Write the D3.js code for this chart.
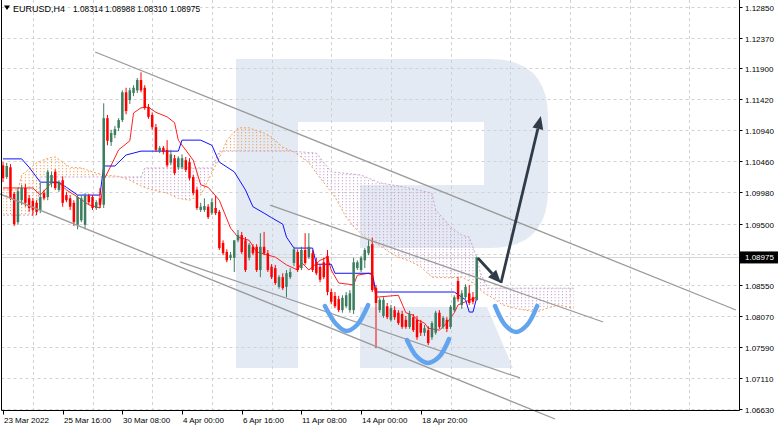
<!DOCTYPE html>
<html><head><meta charset="utf-8">
<script src="https://cdn.jsdelivr.net/npm/d3@7"></script>
<style>html,body{margin:0;padding:0;background:#fff;}svg{display:block;}</style>
</head><body>
<svg id="chart" width="782" height="430"></svg>
<script>
// ---------- DATA ----------
const symbolLabel = "EURUSD,H4";
const headerValues = ["1.08314", "1.08988", "1.08310", "1.08975"];
const lastPrice = 1.08975;
const priceTicks = [1.12850, 1.12370, 1.11900, 1.11420, 1.10940, 1.10460, 1.09980, 1.09500, 1.09030, 1.08550, 1.08070, 1.07590, 1.07110, 1.06630];
const hiddenPriceTicks = [1.09030]; // covered by the current-price box in the picture
const timeTickBars = [0, 16, 32, 48, 64, 80, 96, 112];
const timeTickLabels = ["23 Mar 2022", "25 Mar 16:00", "30 Mar 08:00", "4 Apr 00:00", "6 Apr 16:00", "11 Apr 08:00", "14 Apr 00:00", "18 Apr 20:00"];

const opens = [1.1040,1.1022,1.1037,1.0996,1.0952,1.0986,1.1005,1.0989,1.0985,1.0982,
1.0971,1.0997,1.0991,1.1013,1.1030,1.1002,1.1017,1.0994,1.0989,1.0982,
1.0948,1.0955,1.0948,1.0993,1.0991,1.0974,1.0989,1.0979,1.1113,1.1076,
1.1087,1.1098,1.1110,1.1153,1.1141,1.1152,1.1156,1.1172,1.1160,1.1130,
1.1118,1.1099,1.1062,1.1067,1.1064,1.1044,1.1051,1.1037,1.1037,1.1048,
1.1045,1.1022,1.1002,1.0971,1.0971,1.0976,1.0966,1.0974,1.0968,1.0920,
1.0906,1.0897,1.0897,1.0924,1.0932,1.0924,1.0897,1.0914,1.0914,1.0878,
1.0914,1.0904,1.0883,1.0881,1.0852,1.0867,1.0852,1.0867,1.0889,1.0906,
1.0881,1.0909,1.0898,1.0904,1.0890,1.0883,1.0890,1.0900,1.0844,1.0838,
1.0833,1.0816,1.0822,1.0816,1.0816,1.0881,1.0878,1.0893,1.0904,1.0918,
1.0850,1.0816,1.0807,1.0822,1.0801,1.0816,1.0812,1.0810,1.0801,1.0790,
1.0805,1.0801,1.0796,1.0781,1.0785,1.0774,1.0781,1.0812,1.0790,1.0801,
1.0790,1.0816,1.0861,1.0824,1.0836,1.0842,1.0836,1.08314];
const highs = [1.1045,1.1044,1.1042,1.0999,1.1005,1.1010,1.1011,1.0994,1.0989,1.0986,
1.1013,1.1002,1.1033,1.1030,1.1034,1.1017,1.1023,1.0999,1.0994,1.0986,
1.0994,1.0993,1.0997,1.0996,1.0994,1.0986,1.1005,1.1136,1.1118,1.1095,
1.1101,1.1113,1.1156,1.1160,1.1160,1.1164,1.1175,1.1184,1.1164,1.1135,
1.1122,1.1104,1.1070,1.1070,1.1079,1.1064,1.1056,1.1054,1.1057,1.1053,
1.1051,1.1025,1.1006,1.0982,1.0989,1.0980,1.0989,1.0993,1.0971,1.0924,
1.0910,1.0906,1.0924,1.0940,1.0937,1.0929,1.0920,1.0918,1.0918,1.0935,
1.0937,1.0909,1.0887,1.0886,1.0870,1.0873,1.0878,1.0881,1.0914,1.0910,
1.0914,1.0935,1.0935,1.0909,1.0897,1.0887,1.0897,1.0909,1.0849,1.0844,
1.0838,1.0839,1.0844,1.0847,1.0897,1.0893,1.0900,1.0912,1.0924,1.0928,
1.0855,1.0835,1.0836,1.0827,1.0824,1.0822,1.0816,1.0815,1.0807,1.0815,
1.0810,1.0807,1.0801,1.0793,1.0791,1.0799,1.0815,1.0816,1.0807,1.0805,
1.0824,1.0839,1.0867,1.0847,1.0856,1.0855,1.0844,1.08988];
const lows = [1.1014,1.1019,1.0986,1.0946,1.0948,1.0979,1.0976,1.0968,1.0962,1.0963,
1.0966,1.0986,1.0986,1.1006,1.1002,1.0999,1.0976,1.0983,1.0971,1.0946,
1.0941,1.0952,1.0941,1.0979,1.0971,1.0971,1.0974,1.0974,1.1071,1.1070,
1.1082,1.1093,1.1107,1.1119,1.1135,1.1147,1.1152,1.1153,1.1126,1.1112,
1.1095,1.1061,1.1059,1.1057,1.1037,1.1040,1.1025,1.1033,1.1034,1.1030,
1.1017,1.0994,1.0971,1.0968,1.0968,1.0957,1.0963,1.0963,1.0909,1.0901,
1.0890,1.0893,1.0875,1.0921,1.0903,1.0875,1.0893,1.0901,1.0875,1.0867,
1.0901,1.0875,1.0864,1.0855,1.0849,1.0847,1.0836,1.0864,1.0884,1.0875,
1.0878,1.0886,1.0895,1.0875,1.0870,1.0859,1.0864,1.0839,1.0825,1.0819,
1.0813,1.0812,1.0819,1.0812,1.0810,1.0878,1.0875,1.0881,1.0901,1.0844,
1.0757,1.0812,1.0804,1.0802,1.0798,1.0801,1.0793,1.0787,1.0787,1.0787,
1.0782,1.0770,1.0776,1.0776,1.0762,1.0770,1.0778,1.0787,1.0787,1.0782,
1.0787,1.0813,1.0829,1.0818,1.0833,1.0824,1.0825,1.08310];
const closes = [1.1020,1.1039,1.0989,1.0949,1.1000,1.1005,1.0982,1.0974,1.0971,1.0968,
1.0991,1.0989,1.1030,1.1025,1.1005,1.1013,1.0982,1.0986,1.0976,1.0952,
1.0991,1.0989,1.0993,1.0983,1.0974,1.0983,1.0979,1.1113,1.1078,1.1090,
1.1096,1.1110,1.1153,1.1124,1.1156,1.1160,1.1172,1.1156,1.1129,1.1115,
1.1099,1.1064,1.1067,1.1061,1.1040,1.1057,1.1028,1.1051,1.1051,1.1033,
1.1020,1.0997,1.0974,1.0976,1.0977,1.0960,1.0983,1.0966,1.0912,1.0904,
1.0893,1.0901,1.0924,1.0932,1.0906,1.0878,1.0917,1.0904,1.0878,1.0914,
1.0904,1.0878,1.0867,1.0858,1.0867,1.0850,1.0873,1.0875,1.0910,1.0878,
1.0909,1.0889,1.0914,1.0878,1.0873,1.0863,1.0867,1.0844,1.0829,1.0822,
1.0816,1.0835,1.0839,1.0842,1.0890,1.0890,1.0897,1.0909,1.0915,1.0847,
1.0827,1.0832,1.0832,1.0805,1.0819,1.0805,1.0796,1.0790,1.0790,1.0810,
1.0785,1.0774,1.0781,1.0788,1.0765,1.0796,1.0812,1.0790,1.0804,1.0787,
1.0821,1.0836,1.0833,1.0842,1.0852,1.0827,1.0829,1.08975];

// Ichimoku lines: [bar, price]
const tenkan = [[0,1.1005],[8,1.1005],[10,1.0994],[13,1.1013],[15,1.1013],[17,1.1002],[20,1.0991],[23,1.0979],[26,1.0974],[27,1.1017],
[29,1.1040],[31,1.1064],[34,1.1078],[35,1.1121],[37,1.1129],[39,1.1130],[41,1.1122],[44,1.1115],[46,1.1106],[47,1.1079],
[51,1.1048],[53,1.1010],[55,1.1006],[58,1.0986],[61,1.0943],[63,1.0929],[66,1.0924],[68,1.0906],[73,1.0898],[76,1.0886],
[79,1.0878],[80,1.0890],[82,1.0878],[85,1.0893],[87,1.0898],[88,1.0878],[90,1.0858],[94,1.0855],[95,1.0870],[98,1.0873],
[99,1.0870],[100,1.0836],[106,1.0839],[108,1.0812],[110,1.0808],[111,1.0801],[113,1.0796],[114,1.0788],[117,1.0785],[119,1.0796],
[121,1.0812],[122,1.0824],[124,1.0829],[127,1.0836]];
const kijun = [[0,1.1050],[5,1.1050],[7,1.1037],[10,1.1014],[15,1.1014],[17,1.1006],[20,1.0994],[26,1.0994],[27,1.1039],[30,1.1039],
[33,1.1056],[37,1.1062],[47,1.1062],[48,1.1079],[53,1.1079],[56,1.1071],[58,1.1045],[62,1.1030],[65,1.1002],[67,1.0976],
[70,1.0966],[72,1.0959],[75,1.0949],[76,1.0929],[78,1.0912],[83,1.0912],[84,1.0887],[88,1.0887],[89,1.0873],[99,1.0873],
[100,1.0844],[121,1.0844],[124,1.0832],[125,1.0813],[126,1.0813],[127,1.0835]];
const spanA = [[0,1.1002],[4,1.1002],[5,1.1025],[9,1.1044],[12,1.1051],[14,1.1053],[16,1.1045],[18,1.1037],[21,1.1036],[24,1.1030],
[27,1.1025],[31,1.1023],[34,1.1017],[37,1.1008],[40,1.1002],[44,1.0997],[47,1.0989],[50,1.0986],[53,1.0994],[55,1.1017],
[57,1.1040],[59,1.1064],[60,1.1079],[63,1.1098],[66,1.1098],[70,1.1090],[72,1.1084],[75,1.1068],[78,1.1061],[82,1.1044],
[84,1.1028],[87,1.1006],[89,1.0991],[92,1.0960],[94,1.0945],[98,1.0924],[100,1.0920],[104,1.0904],[106,1.0898],[109,1.0892],
[112,1.0883],[115,1.0867],[119,1.0866],[123,1.0867],[126,1.0858],[129,1.0842],[131,1.0836],[134,1.0824],[138,1.0818],[143,1.0813],
[146,1.0819],[149,1.0824],[151,1.0821],[153,1.0819]];
const spanB = [[0,1.0963],[9,1.0963],[10,1.1022],[37,1.1022],[38,1.1036],[56,1.1036],[58,1.1062],[77,1.1062],[84,1.1059],[88,1.1030],
[96,1.1025],[101,1.1013],[108,1.1006],[115,1.0997],[116,1.0971],[120,1.0945],[123,1.0932],[125,1.0929],[127,1.0898],[128,1.0873],
[130,1.0850],[153,1.0850]];

// Drawn annotations: [bar, price]
const channelLines = [
  [[24.7,1.12154],[196.5,1.08162]],
  [[71.6,1.09786],[160.9,1.07976]],
  [[-0.8,1.09957],[148.0,1.06475]],
  [[47.5,1.08905],[138.6,1.07110]]
];
const arrows = [
  [[127.3,1.08966],[133.5,1.08580]],
  [[133.5,1.08580],[144.2,1.11162]]
];
const curves = [
  [[86.3,1.08224],[89.3,1.07945],[92.0,1.07837],[94.9,1.07930],[97.9,1.08239]],
  [[108.3,1.07698],[111.0,1.07435],[113.9,1.07342],[116.9,1.07435],[119.6,1.07713]],
  [[131.9,1.08224],[134.6,1.07930],[137.5,1.07821],[140.5,1.07930],[143.2,1.08224]]
];

// ---------- CHART ----------
const svg = d3.select("#chart");
const PL = 1.5, PR = 739.5, PB = 410.5;
const x = d3.scaleLinear().domain([0, 198]).range([3, 3 + 3.73 * 198]);
const y = d3.scaleLinear().domain([1.06630, 1.12850]).range([409, 7]);
const FONT = "'Liberation Sans', Arial, sans-serif";

const defs = svg.append("defs");
defs.append("clipPath").attr("id", "plot").append("rect")
  .attr("x", PL).attr("y", 0).attr("width", PR - PL).attr("height", PB);

function dotPattern(id, color) {
  const p = defs.append("pattern").attr("id", id).attr("patternUnits", "userSpaceOnUse")
    .attr("x", x(0) - 0.5).attr("y", 0).attr("width", 3.73).attr("height", 3);
  p.append("rect").attr("x", 0).attr("y", 0).attr("width", 1).attr("height", 1.3).attr("fill", color);
}
dotPattern("dotOrange", "#f1a05c");
dotPattern("dotPurple", "#c9a2cf");

svg.append("rect").attr("width", 782).attr("height", 430).attr("fill", "#fff");

// watermark logo
const wm = svg.append("g").attr("fill", "#e4eaf3");
wm.append("path").attr("d", "M236,59H298V368H236Z");
wm.append("path").attr("d", "M298,59H490Q548,59 548,117V190Q548,248 490,248H360V185H484V122H298Z");
wm.append("path").attr("d", "M360,307H487L513,368H360Z");

const plot = svg.append("g").attr("clip-path", "url(#plot)");

// grid
const vGridBars = d3.range(8, 198, 16);
plot.selectAll(".vg").data(vGridBars).join("line")
  .attr("x1", d => Math.round(x(d)) + 0.5).attr("x2", d => Math.round(x(d)) + 0.5)
  .attr("y1", 0).attr("y2", PB)
  .attr("stroke", "#d2d2d2").attr("stroke-dasharray", "3,3").attr("stroke-width", 1);
plot.selectAll(".hg").data(priceTicks).join("line")
  .attr("x1", PL).attr("x2", PR)
  .attr("y1", d => Math.round(y(d)) + 0.5).attr("y2", d => Math.round(y(d)) + 0.5)
  .attr("stroke", "#d2d2d2").attr("stroke-dasharray", "3,3").attr("stroke-width", 1);

// current price line
plot.append("line").attr("x1", PL).attr("x2", PR)
  .attr("y1", Math.round(y(lastPrice)) + 0.5).attr("y2", Math.round(y(lastPrice)) + 0.5)
  .attr("stroke", "#d6d6d6").attr("stroke-width", 1);

// cloud
const lineGen = d3.line().x(d => x(d[0])).y(d => y(d[1]));
const x0 = x(spanA[0][0]) - 2, x1 = x(spanA[spanA.length - 1][0]) + 1;
const belowA = lineGen(spanA) + `L${x1},420L${x0},420Z`;
const aboveA = lineGen(spanA) + `L${x1},-5L${x0},-5Z`;
const belowB = lineGen(spanB) + `L${x1},420L${x0},420Z`;
const aboveB = lineGen(spanB) + `L${x1},-5L${x0},-5Z`;
defs.append("clipPath").attr("id", "clipBelowA").append("path").attr("d", belowA);
defs.append("clipPath").attr("id", "clipAboveA").append("path").attr("d", aboveA);
plot.append("g").attr("clip-path", "url(#clipBelowA)")
  .append("path").attr("d", aboveB).attr("fill", "url(#dotOrange)");
plot.append("g").attr("clip-path", "url(#clipAboveA)")
  .append("path").attr("d", belowB).attr("fill", "url(#dotPurple)");
plot.append("path").attr("d", lineGen(spanA)).attr("fill", "none")
  .attr("stroke", "#f1a05c").attr("stroke-width", 1).attr("stroke-dasharray", "2,2");
plot.append("path").attr("d", lineGen(spanB)).attr("fill", "none")
  .attr("stroke", "#c9a2cf").attr("stroke-width", 1).attr("stroke-dasharray", "2,2");

// tenkan / kijun
plot.append("path").attr("d", lineGen(tenkan)).attr("fill", "none").attr("stroke", "#ff2020").attr("stroke-width", 1);
plot.append("path").attr("d", lineGen(kijun)).attr("fill", "none").attr("stroke", "#1010ff").attr("stroke-width", 1);

// candles
const bars = opens.map((o, i) => ({ i, o, h: highs[i], l: lows[i], c: closes[i] }));
const cg = plot.append("g");
const up = "#3b7d5e", down = "#ff0000";
cg.selectAll(".wick").data(bars).join("line")
  .attr("x1", d => x(d.i)).attr("x2", d => x(d.i))
  .attr("y1", d => y(d.h)).attr("y2", d => y(d.l))
  .attr("stroke", d => d.c >= d.o ? up : down).attr("stroke-width", 1);
cg.selectAll(".body").data(bars).join("rect")
  .attr("x", d => x(d.i) - 1.25).attr("width", 2.5)
  .attr("y", d => Math.min(y(d.o), y(d.c)))
  .attr("height", d => Math.max(1, Math.abs(y(d.o) - y(d.c))))
  .attr("fill", d => d.c >= d.o ? up : down);

// channel lines (not clipped)
svg.selectAll(".chan").data(channelLines).join("line")
  .attr("x1", d => x(d[0][0])).attr("y1", d => y(d[0][1]))
  .attr("x2", d => x(d[1][0])).attr("y2", d => y(d[1][1]))
  .attr("stroke", "#9a9a9a").attr("stroke-width", 1.3);

// arrows
const arrowColor = "#2f3b48";
arrows.forEach(a => {
  const xa = x(a[0][0]), ya = y(a[0][1]), xb = x(a[1][0]), yb = y(a[1][1]);
  const ang = Math.atan2(yb - ya, xb - xa);
  const L = 13, W = 5.5;
  const bx = xb - L * Math.cos(ang), by = yb - L * Math.sin(ang);
  svg.append("line").attr("x1", xa).attr("y1", ya).attr("x2", bx).attr("y2", by)
    .attr("stroke", arrowColor).attr("stroke-width", 2.8);
  const p1 = [bx + W * Math.sin(ang), by - W * Math.cos(ang)];
  const p2 = [bx - W * Math.sin(ang), by + W * Math.cos(ang)];
  svg.append("path").attr("d", `M${xb},${yb}L${p1[0]},${p1[1]}L${p2[0]},${p2[1]}Z`).attr("fill", arrowColor);
});

// blue curves
const curveGen = d3.line().x(d => x(d[0])).y(d => y(d[1])).curve(d3.curveCatmullRom);
svg.selectAll(".u").data(curves).join("path")
  .attr("d", d => curveGen(d)).attr("fill", "none")
  .attr("stroke", "#62a4ee").attr("stroke-width", 4.5).attr("stroke-linecap", "round");

// frame
svg.append("path").attr("d", `M${PL},0V${PB}H${PR}V0`).attr("fill", "none").attr("stroke", "#000").attr("stroke-width", 1);

// price axis
const pa = svg.append("g").attr("font-family", FONT).attr("font-size", 8).attr("fill", "#000");
priceTicks.forEach(p => {
  const yy = Math.round(y(p)) + 0.5;
  pa.append("line").attr("x1", PR).attr("x2", PR + 3).attr("y1", yy).attr("y2", yy).attr("stroke", "#000");
  if (!hiddenPriceTicks.includes(p)) pa.append("text").attr("x", 745).attr("y", yy + 3).text(p.toFixed(5));
});
const yl = y(lastPrice);
pa.append("rect").attr("x", 740).attr("y", yl - 6).attr("width", 38).attr("height", 12).attr("fill", "#000");
pa.append("text").attr("x", 745).attr("y", yl + 3).attr("fill", "#fff").text(lastPrice.toFixed(5));

// time axis
const ta = svg.append("g").attr("font-family", FONT).attr("font-size", 8).attr("fill", "#000");
timeTickBars.forEach((b, k) => {
  const xx = Math.round(x(b)) + 0.5;
  ta.append("line").attr("x1", xx).attr("x2", xx).attr("y1", PB).attr("y2", PB + 4).attr("stroke", "#000");
  ta.append("text").attr("x", xx + 0.5).attr("y", 423).text(timeTickLabels[k]);
});

// header
const hd = svg.append("g").attr("font-family", FONT).attr("fill", "#000");
hd.append("path").attr("d", "M4,5.5L10,5.5L7,10Z");
hd.append("text").attr("x", 13).attr("y", 12).attr("font-size", 9).text(symbolLabel);
const hx = [73, 105, 137, 170];
headerValues.forEach((v, k) => hd.append("text").attr("x", hx[k]).attr("y", 12).attr("font-size", 8.3).text(v));
</script>
</body></html>
